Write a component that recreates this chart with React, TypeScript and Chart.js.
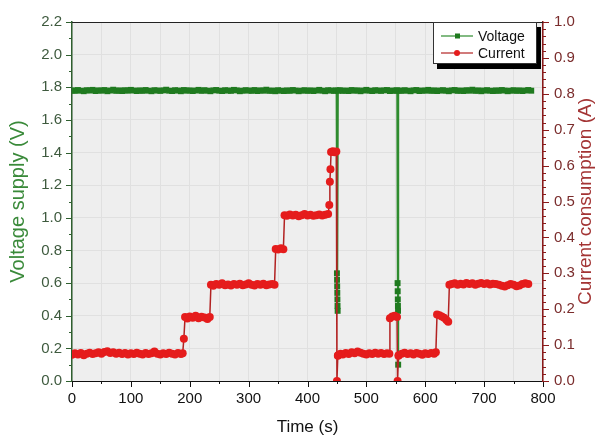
import { useEffect, useRef } from 'react';
import { Chart, registerables } from 'chart.js';
Chart.register(...registerables);

// ---------- DATA ----------
const xTickLabels = ['0', '100', '200', '300', '400', '500', '600', '700', '800'];

const currentTime = [
  0, 5, 10, 15, 20, 25, 30, 35, 40, 45, 50, 55, 60, 65, 70, 75, 80, 85, 90, 95,
  100, 105, 110, 115, 120, 125, 130, 135, 140, 145, 150, 155, 160, 165, 170, 175, 180, 185, 188,
  190, 192, 196, 200, 205, 210, 215, 220, 225, 230, 234,
  236, 240, 245, 250, 255, 260, 265, 270, 275, 280, 285, 290, 295, 300, 305, 310, 315, 320, 325, 330, 335, 340, 344,
  346, 350, 355, 359,
  361, 365, 370, 375, 380, 385, 390, 395, 400, 405, 410, 415, 420, 425, 430, 435,
  437, 438, 439, 440, 443, 446, 449,
  450, 451.5,
  452, 456, 460, 465, 470, 475, 480, 485, 490, 495, 500, 505, 510, 515, 520, 525, 530, 535, 539,
  540, 544, 548, 552,
  553, 554.5,
  555, 560, 565, 570, 575, 580, 585, 590, 595, 600, 605, 610, 615, 618,
  620, 624, 628, 632, 636, 639,
  641, 645, 650, 655, 660, 665, 670, 675, 680, 685, 690, 695, 700, 705, 710, 715, 720, 725, 730, 735, 740, 745, 750, 755, 760, 765, 770, 775,
];

const currentAmps = [
  0.073, 0.077, 0.074, 0.078, 0.072, 0.076, 0.079, 0.075, 0.077, 0.080, 0.076, 0.081, 0.083, 0.078, 0.080, 0.076, 0.079, 0.075, 0.078, 0.074,
  0.077, 0.075, 0.079, 0.076, 0.074, 0.078, 0.075, 0.077, 0.082, 0.076, 0.074, 0.077, 0.075, 0.079, 0.076, 0.074, 0.078, 0.075, 0.077,
  0.118, 0.178, 0.174, 0.180, 0.176, 0.182, 0.175, 0.179, 0.177, 0.173, 0.178,
  0.268, 0.265, 0.270, 0.268, 0.272, 0.267, 0.269, 0.266, 0.270, 0.268, 0.271, 0.267, 0.269, 0.272, 0.268, 0.266, 0.270, 0.268, 0.271, 0.267, 0.269, 0.270, 0.268,
  0.368, 0.366, 0.370, 0.367,
  0.462, 0.460, 0.464, 0.461, 0.463, 0.459, 0.462, 0.465, 0.461, 0.463, 0.460, 0.462, 0.464, 0.461, 0.463, 0.465,
  0.490, 0.555, 0.590, 0.638, 0.640, 0.637, 0.639,
  0.0, 0.070,
  0.072, 0.076, 0.074, 0.078, 0.075, 0.080, 0.077, 0.082, 0.079, 0.076, 0.074, 0.077, 0.075, 0.079, 0.076, 0.078, 0.075, 0.077, 0.076,
  0.175, 0.180, 0.182, 0.178,
  0.0, 0.070,
  0.072, 0.076, 0.079, 0.075, 0.077, 0.074, 0.078, 0.076, 0.073, 0.077, 0.075, 0.078, 0.076, 0.080,
  0.185, 0.183, 0.180, 0.176, 0.170, 0.165,
  0.268, 0.270, 0.272, 0.268, 0.271, 0.269, 0.273, 0.270, 0.272, 0.268, 0.271, 0.273, 0.270, 0.272, 0.269, 0.271, 0.270, 0.268, 0.265, 0.263, 0.267, 0.270, 0.268, 0.264, 0.266, 0.270, 0.272, 0.270,
];

const voltageTime = [
  0, 5, 10, 15, 20, 25, 30, 35, 40, 45,
  50, 55, 60, 65, 70, 75, 80, 85, 90, 95,
  100, 105, 110, 115, 120, 125, 130, 135, 140, 145,
  150, 155, 160, 165, 170, 175, 180, 185, 190, 195,
  200, 205, 210, 215, 220, 225, 230, 235, 240, 245,
  250, 255, 260, 265, 270, 275, 280, 285, 290, 295,
  300, 305, 310, 315, 320, 325, 330, 335, 340, 345,
  350, 355, 360, 365, 370, 375, 380, 385, 390, 395,
  400, 405, 410, 415, 420, 425, 430, 435, 440, 445,
  449,
  450, 450.2, 450.4, 450.6, 450.8, 451, 451.2,
  452,
  455, 460, 465, 470, 475, 480, 485, 490, 495,
  500, 505, 510, 515, 520, 525, 530, 535, 540, 545,
  550, 552,
  553, 553.2, 553.4, 553.6, 553.8, 554,
  555,
  560, 565, 570, 575, 580, 585, 590, 595,
  600, 605, 610, 615, 620, 625, 630, 635, 640, 645,
  650, 655, 660, 665, 670, 675, 680, 685, 690, 695,
  700, 705, 710, 715, 720, 725, 730, 735, 740, 745,
  750, 755, 760, 765, 770, 775, 780,
];

const voltageVolts = [
  1.781, 1.778, 1.783, 1.779, 1.776, 1.782, 1.780, 1.784, 1.777, 1.781,
  1.779, 1.783, 1.776, 1.780, 1.785, 1.778, 1.781, 1.777, 1.782, 1.779,
  1.784, 1.780, 1.777, 1.781, 1.778, 1.783, 1.779, 1.776, 1.782, 1.780,
  1.778, 1.781, 1.785, 1.779, 1.777, 1.782, 1.780, 1.776, 1.783, 1.779,
  1.781, 1.777, 1.780, 1.784, 1.778, 1.782, 1.779, 1.776, 1.781, 1.783,
  1.779, 1.777, 1.782, 1.780, 1.778, 1.784, 1.781, 1.776, 1.779, 1.782,
  1.780, 1.778, 1.783, 1.777, 1.781, 1.779, 1.785, 1.778, 1.780, 1.776,
  1.782, 1.779, 1.777, 1.781, 1.778, 1.783, 1.780, 1.776, 1.779, 1.782,
  1.778, 1.781, 1.777, 1.780, 1.784, 1.779, 1.776, 1.782, 1.780, 1.778,
  1.781,
  0.66, 0.62, 0.58, 0.54, 0.50, 0.46, 0.43,
  1.779,
  1.782, 1.778, 1.780, 1.777, 1.783, 1.779, 1.781, 1.776, 1.780,
  1.784, 1.779, 1.777, 1.782, 1.780, 1.778, 1.781, 1.783, 1.777, 1.780,
  1.779, 1.781,
  0.60, 0.55, 0.50, 0.46, 0.43, 0.10,
  1.780,
  1.778, 1.782, 1.779, 1.776, 1.781, 1.783, 1.777, 1.780,
  1.779, 1.784, 1.778, 1.781, 1.777, 1.780, 1.782, 1.779, 1.776, 1.781,
  1.783, 1.778, 1.780, 1.777, 1.782, 1.779, 1.785, 1.778, 1.781, 1.776,
  1.780, 1.782, 1.779, 1.777, 1.781, 1.778, 1.783, 1.780, 1.776, 1.779,
  1.782, 1.778, 1.781, 1.777, 1.780, 1.783, 1.779,
];

const seriesNames = ['Voltage', 'Current'];
const axisTitles = ['Time (s)', 'Voltage supply (V)', 'Current consumption (A)'];

// ---------- STYLE ----------
const FONT = '"Liberation Sans", Arial, sans-serif';
const GREEN_LINE = '#2e8b2e';
const GREEN_PT = '#1f7a1f';
const RED_LINE = '#b22222';
const RED_PT = '#e51c1c';
const LEFT_AXIS = '#2f5f2f';
const RIGHT_AXIS = '#8b1a1a';

const decor = {
  id: 'decor',
  beforeDraw(chart: any) {
    const { ctx, chartArea } = chart;
    const { left, top, right, bottom } = chartArea;
    ctx.save();
    ctx.fillStyle = '#eeeeee';
    ctx.fillRect(left, top, right - left, bottom - top);
    ctx.restore();
  },
  afterDraw(chart: any) {
    const { ctx, chartArea } = chart;
    const { left, top, right, bottom } = chartArea;
    const sx = chart.scales.x, sy = chart.scales.y, sy1 = chart.scales.y1;
    ctx.save();
    ctx.lineWidth = 1;
    // top frame
    ctx.strokeStyle = '#222';
    ctx.beginPath();
    ctx.moveTo(left, top + 0.5);
    ctx.lineTo(right, top + 0.5);
    ctx.stroke();
    // x ticks
    ctx.strokeStyle = '#111';
    for (let v = 0; v <= 800; v += 50) {
      const px = Math.round(sx.getPixelForValue(v)) + 0.5;
      const len = v % 100 === 0 ? 6 : 3;
      ctx.beginPath();
      ctx.moveTo(px, bottom);
      ctx.lineTo(px, bottom + len);
      ctx.stroke();
    }
    // left ticks
    ctx.strokeStyle = LEFT_AXIS;
    for (let i = 0; i <= 22; i++) {
      const py = Math.round(sy.getPixelForValue(i * 0.1)) + 0.5;
      const len = i % 2 === 0 ? 6 : 3;
      ctx.beginPath();
      ctx.moveTo(left, py);
      ctx.lineTo(left - len, py);
      ctx.stroke();
    }
    // right ticks
    ctx.strokeStyle = RIGHT_AXIS;
    for (let i = 0; i <= 50; i++) {
      const py = Math.round(sy1.getPixelForValue(i * 0.02)) + 0.5;
      const len = i % 5 === 0 ? 6 : 3;
      ctx.beginPath();
      ctx.moveTo(right, py);
      ctx.lineTo(right + len, py);
      ctx.stroke();
    }
    // axis titles
    const cy = (top + bottom) / 2;
    ctx.textAlign = 'center';
    ctx.textBaseline = 'middle';
    ctx.font = `17px ${FONT}`;
    ctx.fillStyle = '#111';
    ctx.fillText(axisTitles[0], (left + right) / 2, 427);
    ctx.save();
    ctx.translate(18, cy);
    ctx.rotate(-Math.PI / 2);
    ctx.font = `20px ${FONT}`;
    ctx.fillStyle = '#3a8a3a';
    ctx.fillText(axisTitles[1], 0, 0);
    ctx.restore();
    ctx.save();
    ctx.translate(586, cy);
    ctx.rotate(-Math.PI / 2);
    ctx.font = `19px ${FONT}`;
    ctx.fillStyle = '#a33434';
    ctx.fillText(axisTitles[2], 0, 0);
    ctx.restore();
    // legend
    const lx = 433, ly = top, lw = 104, lh = 42;
    ctx.fillStyle = '#000';
    ctx.fillRect(lx + 4, ly + 5, lw, lh);
    ctx.fillStyle = '#fff';
    ctx.fillRect(lx, ly, lw, lh);
    ctx.strokeStyle = '#333';
    ctx.strokeRect(lx + 0.5, ly + 0.5, lw - 1, lh - 1);
    const rows = [
      { name: seriesNames[0], y: ly + 14, line: GREEN_LINE, pt: GREEN_PT, square: true },
      { name: seriesNames[1], y: ly + 31, line: RED_LINE, pt: RED_PT, square: false },
    ];
    ctx.font = `14px ${FONT}`;
    ctx.textAlign = 'left';
    for (const r of rows) {
      ctx.strokeStyle = r.line;
      ctx.lineWidth = 1.2;
      ctx.beginPath();
      ctx.moveTo(lx + 8, r.y);
      ctx.lineTo(lx + 40, r.y);
      ctx.stroke();
      ctx.fillStyle = r.pt;
      if (r.square) ctx.fillRect(lx + 22, r.y - 2.5, 5, 5);
      else {
        ctx.beginPath();
        ctx.arc(lx + 24, r.y, 3, 0, Math.PI * 2);
        ctx.fill();
      }
      ctx.fillStyle = '#111';
      ctx.fillText(r.name, lx + 45, r.y + 1);
    }
    ctx.restore();
  },
};

export default function App() {
  const ref = useRef<HTMLCanvasElement>(null);
  useEffect(() => {
    Chart.defaults.font.family = FONT;
    const voltageData = voltageTime.map((t, i) => ({ x: t, y: voltageVolts[i] }));
    const currentData = currentTime.map((t, i) => ({ x: t, y: currentAmps[i] }));
    const chart = new Chart(ref.current!, {
      type: 'line',
      data: {
        datasets: [
          {
            label: seriesNames[0],
            data: voltageData,
            yAxisID: 'y',
            borderColor: GREEN_LINE,
            borderWidth: 1.5,
            pointStyle: 'rect',
            pointRadius: 4.2,
            pointBackgroundColor: GREEN_PT,
            pointBorderColor: GREEN_PT,
            pointBorderWidth: 0,
            tension: 0,
            order: 2,
          },
          {
            label: seriesNames[1],
            data: currentData,
            yAxisID: 'y1',
            borderColor: RED_LINE,
            borderWidth: 1.5,
            pointStyle: 'circle',
            pointRadius: 4,
            pointBackgroundColor: RED_PT,
            pointBorderColor: RED_PT,
            pointBorderWidth: 0,
            tension: 0,
            order: 1,
          },
        ],
      },
      options: {
        animation: false,
        responsive: true,
        maintainAspectRatio: false,
        layout: { padding: { top: 22, left: 0, right: 0, bottom: 0 } },
        plugins: { legend: { display: false }, tooltip: { enabled: false } },
        scales: {
          x: {
            type: 'linear',
            position: 'bottom',
            min: 0,
            max: 800,
            ticks: {
              stepSize: 50,
              autoSkip: false,
              maxRotation: 0,
              padding: 9,
              color: '#111',
              font: { size: 15, family: FONT },
              callback: (v: any) => {
                const n = Number(v);
                return n % 100 === 0 ? xTickLabels[n / 100] : '';
              },
            },
            grid: { color: '#e0e0e0', drawTicks: false },
            border: { color: '#111', width: 1 },
            afterFit: (s: any) => { s.height = 56; },
          },
          y: {
            type: 'linear',
            position: 'left',
            min: 0,
            max: 2.2,
            ticks: {
              stepSize: 0.2,
              padding: 10,
              color: '#3e5a3e',
              font: { size: 15, family: FONT },
              callback: (v: any) => Number(v).toFixed(1),
            },
            grid: { color: '#e0e0e0', drawTicks: false },
            border: { color: LEFT_AXIS, width: 1.5 },
            afterFit: (s: any) => { s.width = 72; },
          },
          y1: {
            type: 'linear',
            position: 'right',
            min: 0,
            max: 1,
            ticks: {
              stepSize: 0.1,
              padding: 11,
              color: '#7a2c2c',
              font: { size: 15, family: FONT },
              callback: (v: any) => Number(v).toFixed(1),
            },
            grid: { drawOnChartArea: false, drawTicks: false },
            border: { color: RIGHT_AXIS, width: 1.5 },
            afterFit: (s: any) => { s.width = 52; },
          },
        },
      },
      plugins: [decor],
    });
    return () => chart.destroy();
  }, []);
  return (
    <div style={{ position: 'absolute', left: 0, top: 0, width: 595, height: 437 }}>
      <canvas ref={ref} />
    </div>
  );
}
